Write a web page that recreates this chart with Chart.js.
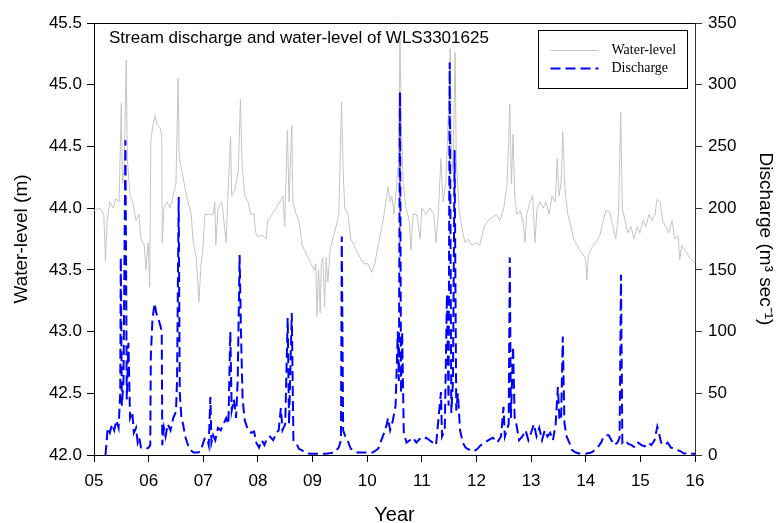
<!DOCTYPE html>
<html>
<head>
<meta charset="utf-8">
<script src="https://cdn.jsdelivr.net/npm/chart.js@4.4.1/dist/chart.umd.min.js"></script>
<style>
html,body{margin:0;padding:0;background:#fff;}
canvas{display:block;}
</style>
</head>
<body>
<canvas id="c" width="779" height="523"></canvas>
<script>
// ---- data (decimal year since 2000) ----
const chartTitle = 'Stream discharge and water-level of WLS3301625';
const xTickLabels = ['05','06','07','08','09','10','11','12','13','14','15','16'];

const wlYears = [5.00,5.11,5.18,5.21,5.24,5.29,5.35,5.40,5.46,5.50,5.52,5.55,5.59,5.61,5.66,5.71,5.77,5.82,5.86,5.92,5.95,5.99,6.02,6.04,6.08,6.12,6.15,6.21,6.24,6.25,6.28,6.34,6.39,6.45,6.50,6.54,6.56,6.61,6.67,6.72,6.78,6.81,6.87,6.90,6.92,6.96,6.99,7.03,7.10,7.18,7.21,7.23,7.27,7.34,7.42,7.45,7.50,7.52,7.58,7.64,7.68,7.71,7.76,7.82,7.87,7.93,7.96,8.00,8.09,8.15,8.18,8.26,8.33,8.40,8.46,8.49,8.54,8.57,8.62,8.64,8.70,8.75,8.81,8.86,8.92,8.97,9.03,9.06,9.08,9.11,9.14,9.16,9.19,9.22,9.25,9.28,9.32,9.37,9.43,9.48,9.53,9.56,9.59,9.65,9.70,9.76,9.81,9.87,9.94,10.01,10.08,10.14,10.20,10.25,10.31,10.34,10.38,10.42,10.45,10.49,10.53,10.57,10.60,10.63,10.66,10.71,10.77,10.80,10.84,10.91,10.97,11.00,11.08,11.15,11.22,11.26,11.30,11.35,11.39,11.44,11.49,11.52,11.54,11.57,11.61,11.63,11.68,11.73,11.79,11.84,11.92,11.99,12.06,12.14,12.21,12.28,12.36,12.43,12.50,12.56,12.59,12.61,12.64,12.67,12.70,12.74,12.80,12.85,12.89,12.92,12.98,13.03,13.07,13.11,13.16,13.22,13.27,13.33,13.38,13.44,13.48,13.51,13.55,13.58,13.62,13.67,13.73,13.78,13.84,13.89,13.96,14.00,14.02,14.05,14.11,14.19,14.26,14.32,14.37,14.44,14.50,14.55,14.60,14.64,14.67,14.72,14.77,14.83,14.88,14.94,14.99,15.05,15.10,15.16,15.21,15.27,15.30,15.36,15.41,15.46,15.52,15.58,15.63,15.69,15.72,15.76,15.83,15.90,16.00];
const wlValues = [43.98,44.00,43.95,43.57,43.90,44.05,44.00,44.08,44.05,44.85,44.20,44.30,45.20,44.40,44.10,44.05,43.90,43.95,43.75,43.70,43.50,43.72,43.36,44.55,44.68,44.75,44.68,44.65,44.60,43.72,44.00,44.05,44.00,44.10,44.20,45.05,44.40,44.30,44.15,44.05,43.95,43.75,43.60,43.40,43.24,43.55,43.65,43.95,43.95,43.95,44.05,43.70,44.00,44.05,43.72,44.10,44.58,44.10,44.15,44.30,44.88,44.35,44.10,44.05,43.95,43.95,43.80,43.77,43.78,43.75,43.90,43.95,44.00,44.05,44.10,43.85,44.63,44.05,44.67,44.05,43.95,43.90,43.70,43.65,43.60,43.55,43.50,43.55,43.12,43.50,43.15,43.55,43.60,43.20,43.60,43.40,43.65,43.75,43.85,43.95,44.86,44.30,44.00,43.95,43.75,43.70,43.65,43.60,43.55,43.55,43.48,43.55,43.70,43.80,43.95,44.05,44.17,44.05,44.10,43.95,44.15,44.35,45.38,44.60,44.20,44.00,43.90,43.66,43.95,43.95,43.75,44.00,43.95,44.00,43.95,43.72,43.95,44.40,44.05,44.20,44.80,45.30,44.50,44.30,45.26,44.40,44.00,43.85,43.72,43.75,43.70,43.72,43.70,43.85,43.90,43.92,43.95,43.90,44.00,44.20,44.55,44.84,44.20,44.60,44.10,43.95,43.98,43.90,43.72,43.95,44.05,44.10,43.72,44.00,44.05,44.00,44.05,43.95,44.10,44.05,44.40,44.10,44.20,44.62,44.15,43.95,43.85,43.75,43.70,43.66,43.62,43.58,43.42,43.62,43.68,43.72,43.78,43.90,43.98,43.97,43.85,43.75,43.95,44.78,44.00,43.90,43.80,43.85,43.75,43.85,43.80,43.90,43.85,43.95,43.90,43.95,44.07,44.05,43.90,43.85,43.80,43.90,43.75,43.78,43.58,43.70,43.65,43.60,43.55];

const qYears = [5.21,5.23,5.25,5.29,5.33,5.37,5.41,5.45,5.48,5.49,5.51,5.54,5.575,5.60,5.63,5.66,5.70,5.73,5.77,5.80,5.83,5.86,5.90,5.95,6.00,6.03,6.04,6.07,6.11,6.14,6.18,6.22,6.24,6.25,6.28,6.31,6.35,6.40,6.45,6.50,6.52,6.55,6.57,6.60,6.63,6.67,6.72,6.77,6.82,6.90,6.95,7.00,7.03,7.08,7.10,7.13,7.15,7.18,7.22,7.27,7.32,7.37,7.42,7.46,7.495,7.52,7.56,7.60,7.63,7.665,7.69,7.72,7.76,7.82,7.88,7.93,7.97,8.02,8.07,8.12,8.17,8.22,8.28,8.34,8.38,8.42,8.45,8.50,8.545,8.57,8.62,8.65,8.70,8.75,8.80,8.86,8.95,9.10,9.25,9.40,9.48,9.52,9.535,9.56,9.60,9.64,9.70,9.76,9.82,9.95,10.10,10.20,10.26,10.31,10.36,10.38,10.42,10.47,10.52,10.56,10.58,10.60,10.62,10.64,10.67,10.72,10.78,10.84,10.90,10.96,11.02,11.08,11.14,11.20,11.26,11.35,11.37,11.42,11.46,11.49,11.51,11.54,11.57,11.60,11.63,11.66,11.70,11.75,11.80,11.88,11.95,12.02,12.08,12.15,12.22,12.30,12.38,12.45,12.495,12.52,12.59,12.61,12.63,12.67,12.70,12.73,12.78,12.84,12.90,12.95,13.00,13.05,13.10,13.15,13.20,13.25,13.30,13.35,13.40,13.45,13.49,13.52,13.55,13.58,13.61,13.65,13.70,13.75,13.82,13.90,14.00,14.10,14.20,14.28,14.33,14.37,14.42,14.47,14.52,14.58,14.62,14.645,14.67,14.72,14.78,14.84,14.90,14.96,15.02,15.08,15.14,15.20,15.26,15.31,15.34,15.38,15.44,15.50,15.56,15.62,15.68,15.74,15.80,15.88,15.95,16.00];
const qValues = [0,10,22,18,25,20,28,22,50,160,40,60,255,45,91,30,35,18,22,10,14,6,5,5,6,8,80,110,123,115,110,104,100,8,22,15,25,20,30,35,60,209,50,30,25,15,8,4,2,2,3,10,14,12,8,47,10,16,12,22,20,25,30,25,100,36,45,30,60,162,100,45,28,20,18,19,10,6,12,8,14,15,12,18,20,38,20,25,111,25,115,12,10,5,4,2,1,1,1,2,6,12,177,20,15,12,5,4,2,2,2,5,12,18,25,30,20,28,40,100,60,294,50,100,18,10,12,14,10,13,12,14,12,10,8,51,15,20,130,40,318,34,60,247,36,50,20,10,6,4,3,5,8,10,12,14,10,15,39,15,25,160,30,88,28,25,12,15,20,12,18,25,15,22,12,20,15,18,12,25,55,28,30,96,26,15,10,4,2,1,1,2,5,10,15,16,16,12,8,10,14,146,10,12,9,8,6,10,8,7,10,8,12,23,18,10,8,10,6,5,4,3,1,2,1,1];

const wlPoints = wlYears.map((x, i) => ({x: x, y: wlValues[i]}));
const qPoints = qYears.map((x, i) => ({x: x, y: qValues[i]}));

const SANS = '"Liberation Sans", Arial, sans-serif';
const SERIF = '"Liberation Serif", "Times New Roman", serif';

const overlay = {
  id: 'overlay',
  afterDraw(chart) {
    const ctx = chart.ctx, a = chart.chartArea;
    ctx.save();
    // top frame line
    ctx.strokeStyle = '#000';
    ctx.lineWidth = 1;
    ctx.beginPath();
    ctx.moveTo(a.left, Math.round(a.top) + 0.5);
    ctx.lineTo(a.right, Math.round(a.top) + 0.5);
    ctx.stroke();
    // inner title
    ctx.fillStyle = '#000';
    ctx.font = '17px ' + SANS;
    ctx.textBaseline = 'alphabetic';
    ctx.textAlign = 'left';
    ctx.fillText(chartTitle, a.left + 15, a.top + 20);
    // legend box
    const bw = 149, bh = 58;
    const bx = Math.round(a.right - 8 - bw) + 0.5, by = Math.round(a.top + 7) + 0.5;
    ctx.fillStyle = '#fff';
    ctx.fillRect(bx, by, bw, bh);
    ctx.strokeStyle = '#000';
    ctx.lineWidth = 1;
    ctx.strokeRect(bx, by, bw, bh);
    const ds = chart.data.datasets;
    const rows = [by + 20, by + 38];
    ds.forEach((d, i) => {
      ctx.strokeStyle = d.borderColor;
      ctx.lineWidth = d.borderWidth;
      ctx.setLineDash(d.borderDash || []);
      ctx.beginPath();
      ctx.moveTo(bx + 12, rows[i]);
      ctx.lineTo(bx + 60, rows[i]);
      ctx.stroke();
      ctx.setLineDash([]);
      ctx.fillStyle = '#000';
      ctx.font = '14px ' + SERIF;
      ctx.textBaseline = 'middle';
      ctx.fillText(d.label, bx + 73, rows[i]);
    });
    ctx.restore();
  }
};

new Chart(document.getElementById('c'), {
  type: 'line',
  data: {
    datasets: [
      {
        label: 'Water-level',
        data: wlPoints,
        yAxisID: 'yL',
        borderColor: '#c4c4c4',
        borderWidth: 1,
        pointRadius: 0,
        tension: 0,
        fill: false,
        order: 2
      },
      {
        label: 'Discharge',
        data: qPoints,
        yAxisID: 'yR',
        borderColor: '#0000ff',
        borderWidth: 2,
        borderDash: [10, 5],
        pointRadius: 0,
        tension: 0,
        fill: false,
        order: 1
      }
    ]
  },
  options: {
    responsive: false,
    animation: false,
    layout: { padding: { top: 23, left: 0, right: 0, bottom: 0 } },
    plugins: { legend: { display: false }, tooltip: { enabled: false }, title: { display: false } },
    scales: {
      x: {
        type: 'linear',
        position: 'bottom',
        min: 5, max: 16,
        ticks: {
          stepSize: 1,
          color: '#000',
          font: { family: SANS, size: 17 },
          padding: 9,
          maxRotation: 0,
          callback: (v) => xTickLabels[Math.round(v - 5)]
        },
        grid: { drawOnChartArea: false, drawTicks: true, tickLength: 7, tickColor: '#000', color: '#000' },
        border: { display: true, color: '#000', width: 1 },
        title: { display: true, text: 'Year', color: '#000', font: { family: SANS, size: 20 }, padding: { top: 0, bottom: -4 } },
        afterFit: (s) => { s.height = 68; }
      },
      yL: {
        type: 'linear',
        position: 'left',
        min: 42, max: 45.5,
        ticks: {
          stepSize: 0.5,
          color: '#000',
          font: { family: SANS, size: 17 },
          padding: 5,
          callback: (v) => v.toFixed(1)
        },
        grid: { drawOnChartArea: false, drawTicks: true, tickLength: 7, tickColor: '#000', color: '#000' },
        border: { display: true, color: '#000', width: 1 },
        title: { display: true, text: 'Water-level (m)', color: '#000', font: { family: SANS, size: 19 }, padding: { top: 10, bottom: 0 } },
        afterFit: (s) => { s.width = 94; }
      },
      yR: {
        type: 'linear',
        position: 'right',
        min: 0, max: 350,
        ticks: {
          stepSize: 50,
          color: '#000',
          font: { family: SANS, size: 17 },
          padding: 6
        },
        grid: { drawOnChartArea: false, drawTicks: true, tickLength: 7, tickColor: '#333', color: '#333' },
        border: { display: true, color: '#333', width: 1 },
        title: { display: true, text: 'Discharge (m³ sec⁻¹)', color: '#000', font: { family: SANS, size: 19 }, padding: { top: 2, bottom: 0 } },
        afterFit: (s) => { s.width = 84; }
      }
    }
  },
  plugins: [overlay]
});
</script>
</body>
</html>
